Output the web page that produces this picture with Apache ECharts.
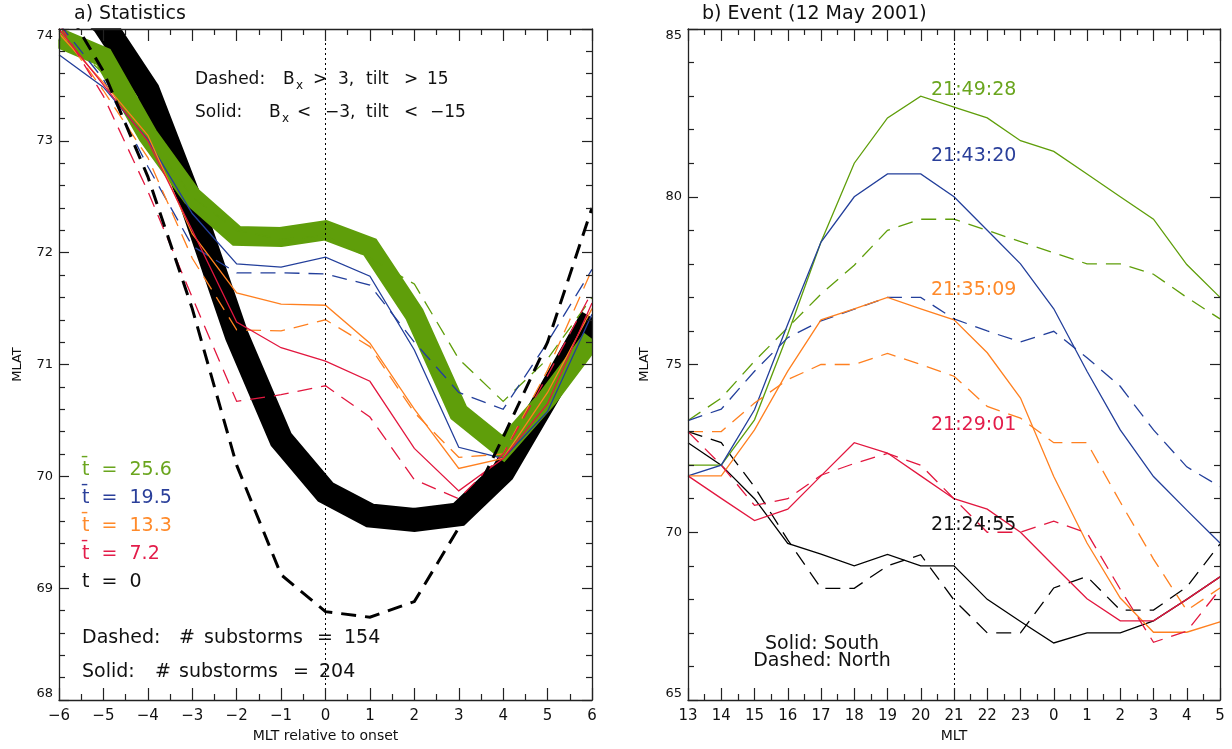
<!DOCTYPE html>
<html><head><meta charset="utf-8">
<script src="https://cdn.jsdelivr.net/npm/echarts@6/dist/echarts.min.js"></script>
<style>html,body{margin:0;padding:0;background:#fff}#c{width:1232px;height:749px}</style>
</head><body><div id="c"></div>
<script>
// ---------- Panel a) Statistics ----------
const mltRel = [-6,-5,-4,-3,-2,-1,0,1,2,3,4,5,6];
// t = 0 (thick bands)
const a_black_solid  = [74.40,74.05,73.45,72.42,71.26,70.33,69.86,69.65,69.61,69.66,70.04,70.72,71.42];
const a_black_dashed = [74.30,73.62,72.68,71.50,70.10,69.12,68.79,68.74,68.88,69.54,70.35,71.20,72.40];
// t = 25.6
const a_green_solid  = [73.92,73.75,73.05,72.50,72.15,72.14,72.20,72.05,71.45,70.57,70.25,70.70,71.23];
const a_green_dashed = [73.98,73.60,73.05,72.50,72.20,72.12,72.15,71.95,71.72,71.05,70.67,71.05,71.60];
// t = 19.5
const a_blue_solid   = [73.77,73.48,73.01,72.35,71.90,71.87,71.96,71.79,71.13,70.26,70.16,70.58,71.45];
const a_blue_dashed  = [74.05,73.55,72.77,72.06,71.82,71.82,71.81,71.71,71.20,70.75,70.60,71.20,71.85];
// t = 13.3
const a_orange_solid = [73.96,73.52,73.05,72.17,71.64,71.54,71.53,71.19,70.60,70.07,70.16,70.75,71.50];
const a_orange_dashed= [74.00,73.45,72.85,71.95,71.31,71.30,71.40,71.16,70.57,70.17,70.20,70.95,71.85];
// t = 7.2
const a_red_solid    = [74.00,73.50,73.00,72.20,71.38,71.15,71.03,70.85,70.25,69.87,70.16,70.65,71.55];
const a_red_dashed   = [74.05,73.40,72.55,71.60,70.67,70.73,70.81,70.53,69.97,69.80,70.20,70.90,71.65];

// ---------- Panel b) Event (12 May 2001) ----------
const mltHours = [13,14,15,16,17,18,19,20,21,22,23,24,25,26,27,28,29]; // 24.. = 0..5 next day
const b_green_S  = [72.00,72.00,73.35,75.90,78.65,81.00,82.35,83.00,82.67,82.35,81.67,81.35,80.68,80.00,79.33,77.98,77.00];
const b_green_N  = [73.33,74.00,75.10,76.10,77.10,77.96,79.00,79.33,79.33,79.00,78.66,78.33,78.00,78.00,77.69,77.00,76.36];
const b_blue_S   = [71.68,72.00,73.65,76.20,78.65,80.00,80.68,80.68,80.00,79.00,78.00,76.66,74.80,73.05,71.66,70.66,69.68];
const b_blue_N   = [73.33,73.67,74.80,75.80,76.30,76.65,77.00,77.00,76.36,76.00,75.67,75.99,75.20,74.35,73.05,71.95,71.36];
const b_orange_S = [71.68,71.68,73.05,74.80,76.33,76.66,77.00,76.66,76.33,75.35,74.00,71.66,69.68,68.04,67.02,67.02,67.33];
const b_orange_N = [73.00,73.00,73.85,74.55,75.00,75.00,75.33,75.00,74.65,73.75,73.40,72.67,72.67,70.90,69.20,67.67,68.34];
const b_red_S    = [71.68,71.01,70.35,70.69,71.68,72.67,72.36,71.68,71.00,70.69,70.00,69.00,68.02,67.36,67.36,68.00,68.67];
const b_red_N    = [73.00,72.00,70.80,71.00,71.70,72.05,72.35,72.00,71.00,70.00,70.00,70.33,69.98,68.30,66.72,67.05,68.30];
const b_black_S  = [72.67,72.00,71.00,69.67,69.35,69.00,69.34,69.00,69.00,68.00,67.34,66.70,67.00,67.00,67.36,68.00,68.67];
const b_black_N  = [73.00,72.67,71.35,69.77,68.33,68.33,69.00,69.33,67.98,67.00,67.00,68.34,68.68,67.68,67.68,68.37,69.65];

const legendLabels = ['t\u0304  =  25.6','t\u0304  =  19.5','t\u0304  =  13.3','t\u0304  =  7.2','t  =  0'];
const eventTimes = ['21:49:28','21:43:20','21:35:09','21:29:01','21:24:55'];

const G='#5f9e0a', B='#233f9b', O='#ff8020', R='#e2173f', K='#000000';
const txtCol = ['#6aa51e','#2a3f9a','#ff8a2a','#e31c4a','#111111'];
const FF = '"DejaVu Sans"';

function pts(xs, ys){ return xs.map((x,i)=>[x, ys[i]]); }
function line(grid, xs, ys, color, width, dash, z){
  return {type:'line', xAxisIndex: grid*2, yAxisIndex: grid*2, data: pts(xs, ys),
    symbol:'none', silent:true, animation:false, z: z||2,
    lineStyle:{color, width, type: dash ? [15,9] : 'solid', join:'miter', cap:'butt'}};
}
function xAx(grid, pos, min, max, labels, fmt, name){
  return {type:'value', gridIndex:grid, position:pos, min, max, interval:1, z:10,
    axisLine:{show:true, onZero:false, lineStyle:{color:'#222', width:1.3}},
    axisTick:{show:true, inside:true, length:12, lineStyle:{color:'#222', width:1.2}},
    minorTick:{show:true, splitNumber:2, length:6, lineStyle:{color:'#222', width:1.2}},
    splitLine:{show:false}, minorSplitLine:{show:false},
    axisLabel:{show:labels, formatter:fmt, fontFamily:FF, fontSize:15, color:'#111', margin:9},
    name: labels ? name : '', nameLocation:'middle', nameGap:27,
    nameTextStyle:{fontFamily:FF, fontSize:14, color:'#111'}};
}
function yAx(grid, pos, min, max, interval, minorSplit, labels, name, gap){
  return {type:'value', gridIndex:grid, position:pos, min, max, interval, z:10,
    axisLine:{show:true, onZero:false, lineStyle:{color:'#222', width:1.3}},
    axisTick:{show:true, inside:true, length:10, lineStyle:{color:'#222', width:1.2}},
    minorTick:{show:true, splitNumber:minorSplit, length:6, lineStyle:{color:'#222', width:1.2}},
    splitLine:{show:false}, minorSplitLine:{show:false},
    axisLabel:{show:labels, fontFamily:FF, fontSize:13, color:'#111', margin:6,
      verticalAlignMinLabel:'bottom', verticalAlignMaxLabel:'top'},
    name: labels ? name : '', nameLocation:'middle', nameGap:gap,
    nameTextStyle:{fontFamily:FF, fontSize:13, color:'#111'}};
}
const minus = v => v < 0 ? '\u2212' + (-v) : String(v);

const series = [
  // panel a thick bands
  line(0, mltRel, a_black_solid, K, 24, false, 1),
  line(0, mltRel, a_green_solid, G, 20, false, 1),
  // panel a thin lines
  line(0, mltRel, a_green_dashed, G, 1.3, true),
  line(0, mltRel, a_blue_solid, B, 1.3, false),
  line(0, mltRel, a_blue_dashed, B, 1.3, true),
  line(0, mltRel, a_orange_solid, O, 1.3, false),
  line(0, mltRel, a_orange_dashed, O, 1.3, true),
  line(0, mltRel, a_red_solid, R, 1.3, false),
  line(0, mltRel, a_red_dashed, R, 1.3, true),
  line(0, mltRel, a_black_dashed, K, 3, true),
  // panel b
  line(1, mltHours, b_black_S, K, 1.3, false),
  line(1, mltHours, b_black_N, K, 1.3, true),
  line(1, mltHours, b_green_S, G, 1.3, false),
  line(1, mltHours, b_green_N, G, 1.3, true),
  line(1, mltHours, b_blue_S, B, 1.3, false),
  line(1, mltHours, b_blue_N, B, 1.3, true),
  line(1, mltHours, b_orange_S, O, 1.3, false),
  line(1, mltHours, b_orange_N, O, 1.3, true),
  line(1, mltHours, b_red_S, R, 1.3, false),
  line(1, mltHours, b_red_N, R, 1.3, true)
];
// onset / 21 MLT dotted markers
series[2].markLine = {silent:true, symbol:'none', animation:false, label:{show:false},
  lineStyle:{color:'#000', width:1, type:[2,3]}, data:[{xAxis:0}]};
series[10].markLine = {silent:true, symbol:'none', animation:false, label:{show:false},
  lineStyle:{color:'#000', width:1, type:[2,3]}, data:[{xAxis:21}]};

function txt(x, y, text, font, fill, align){
  return {type:'text', x, y, silent:true, z:100,
    style:{text, font, fill, textAlign: align||'left', textVerticalAlign:'middle'}};
}
function mask(x, y, w, h){
  return {type:'rect', silent:true, z:5, shape:{x, y, width:w, height:h}, style:{fill:'#fff'}};
}
const F17 = '17px '+FF, F12 = '12px '+FF, F19 = '19px '+FF;
const graphics = [
  // clip the thick bands to the left plot frame
  mask(0, 0, 640, 28.3),
  mask(0, 0, 58.3, 749),
  mask(592.7, 0, 94.6, 749),
  txt(74, 14.5, 'a) Statistics', F19, '#111'),
  txt(702, 14.5, 'b) Event (12 May 2001)', F19, '#111'),
  // Dashed: Bx > 3, tilt > 15
  txt(195, 80, 'Dashed:', F17, '#111'), txt(283, 80, 'B', F17, '#111'), txt(296, 86, 'x', F12, '#111'),
  txt(313, 80, '>', F17, '#111'), txt(338, 80, '3,', F17, '#111'), txt(366, 80, 'tilt', F17, '#111'),
  txt(404, 80, '>', F17, '#111'), txt(427, 80, '15', F17, '#111'),
  // Solid: Bx < -3, tilt < -15
  txt(195, 113, 'Solid:', F17, '#111'), txt(269, 113, 'B', F17, '#111'), txt(282, 119, 'x', F12, '#111'),
  txt(297, 113, '<', F17, '#111'), txt(325, 113, '\u22123,', F17, '#111'), txt(366, 113, 'tilt', F17, '#111'),
  txt(404, 113, '<', F17, '#111'), txt(430, 113, '\u221215', F17, '#111'),
  // substorm counts
  txt(82, 638, 'Dashed:', F19, '#111'), txt(179, 638, '#', F19, '#111'), txt(204, 638, 'substorms', F19, '#111'),
  txt(317, 638, '=', F19, '#111'), txt(344, 638, '154', F19, '#111'),
  txt(82, 672, 'Solid:', F19, '#111'), txt(155, 672, '#', F19, '#111'), txt(179, 672, 'substorms', F19, '#111'),
  txt(293, 672, '=', F19, '#111'), txt(319, 672, '204', F19, '#111'),
  txt(822, 644, 'Solid: South', F19, '#111', 'center'),
  txt(822, 661, 'Dashed: North', F19, '#111', 'center')
];
const legY = [470, 498, 526, 554, 582];
legendLabels.forEach((t,i)=>graphics.push(txt(82, legY[i], t, F19, txtCol[i])));
const evY = [90, 156, 290, 425, 525];
eventTimes.forEach((t,i)=>graphics.push(txt(931, evY[i], t, F19, txtCol[i])));

const chart = echarts.init(document.getElementById('c'), null, {renderer:'canvas'});
chart.setOption({
  backgroundColor:'#fff',
  animation:false,
  grid:[{left:59, top:29, width:533, height:671}, {left:688, top:29, width:532, height:671}],
  xAxis:[
    xAx(0,'bottom',-6,6,true,minus,'MLT relative to onset'),
    xAx(0,'top',-6,6,false,minus,''),
    xAx(1,'bottom',13,29,true,v=>String(v%24),'MLT'),
    xAx(1,'top',13,29,false,v=>String(v%24),'')
  ],
  yAxis:[
    yAx(0,'left',68,74,1,5,true,'MLAT',35),
    yAx(0,'right',68,74,1,5,false,'',0),
    yAx(1,'left',65,85,5,5,true,'MLAT',37),
    yAx(1,'right',65,85,5,5,false,'',0)
  ],
  series: series,
  graphic: graphics
});
</script></body></html>
